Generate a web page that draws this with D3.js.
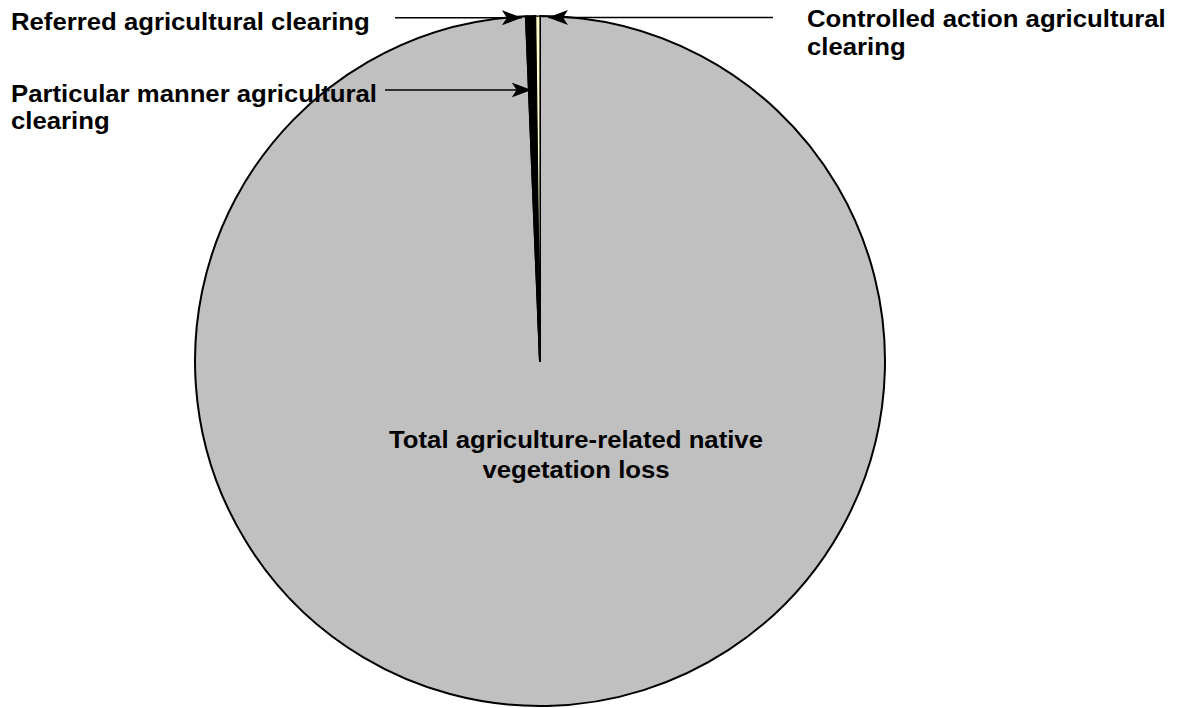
<!DOCTYPE html>
<html>
<head>
<meta charset="utf-8">
<script src="https://cdn.jsdelivr.net/npm/d3@7/dist/d3.min.js"></script>
<style>
  html, body { margin: 0; padding: 0; background: #fff; }
  svg { display: block; }
  text { font-family: Arial, "Liberation Sans", Helvetica, sans-serif; font-weight: bold; fill: #000; }
</style>
</head>
<body>
<svg id="chart" width="1177" height="708"></svg>
<script>
// Data (share of agriculture-related native vegetation loss, %)
const categories = [
  "Total agriculture-related native vegetation loss",
  "Referred agricultural clearing",
  "Particular manner agricultural clearing",
  "Controlled action agricultural clearing"
];
const values = [99.35, 0.1, 0.35, 0.2];
const colors = ["#C0C0C0", "#1a1a1a", "#000000", "#FFFFCC"];
const labelLines = [
  ["Total agriculture-related native", "vegetation loss"],
  ["Referred agricultural clearing"],
  ["Particular manner agricultural", "clearing"],
  ["Controlled action agricultural", "clearing"]
];

const W = 1177, H = 708;
const cx = 540, cy = 361, R = 345;
const FS = 23.5, SX = 1.095;

const svg = d3.select("#chart");
const data = categories.map((c, i) => ({ name: c, value: values[i], color: colors[i], lines: labelLines[i] }));

const pie = d3.pie().value(d => d.value).sort(null).startAngle(0).endAngle(2 * Math.PI);
const arcs = pie(data);
const arc = d3.arc().innerRadius(0).outerRadius(R);

const g = svg.append("g").attr("transform", `translate(${cx},${cy})`);
g.selectAll("path.slice")
  .data(arcs)
  .join("path")
  .attr("class", "slice")
  .attr("d", arc)
  .attr("fill", d => d.data.color)
  .attr("stroke", "#000")
  .attr("stroke-width", d => d.index === 3 ? 1.2 : 2)
  .attr("stroke-linejoin", "round");

// arrow marker
const defs = svg.append("defs");
defs.append("marker")
  .attr("id", "arrow")
  .attr("viewBox", "0 0 20 15")
  .attr("refX", 20).attr("refY", 7.5)
  .attr("markerWidth", 20).attr("markerHeight", 15)
  .attr("markerUnits", "userSpaceOnUse")
  .attr("orient", "auto")
  .append("path")
  .attr("d", "M0,0 L20,7.5 L0,15 L5,7.5 Z")
  .attr("fill", "#000");

function pt(angle, r) {
  return [cx + r * Math.sin(angle), cy - r * Math.cos(angle)];
}

function drawLabel(lines, x, y, anchor, lineH) {
  const tg = svg.append("g").attr("transform", `translate(${x},${y}) scale(${SX},1)`);
  const t = tg.append("text").attr("font-size", FS).attr("text-anchor", anchor);
  lines.forEach((ln, i) => t.append("tspan").attr("x", 0).attr("dy", i === 0 ? 0 : lineH).text(ln));
}

// Total label (inside)
drawLabel(arcs[0].data.lines, cx + 36, cy + 87, "middle", 30);

// Referred
const aRef = arcs[1].startAngle;
const pRef = pt(aRef, R);
svg.append("line")
  .attr("x1", 395).attr("y1", pRef[1] + 1.5)
  .attr("x2", pRef[0] - 4).attr("y2", pRef[1] + 1.5)
  .attr("stroke", "#000").attr("stroke-width", 1.5)
  .attr("marker-end", "url(#arrow)");
drawLabel(arcs[1].data.lines, 11, 30, "start", 28);

// Particular manner
const aPar = (arcs[2].startAngle + arcs[2].endAngle) / 2;
const pPar = pt(aPar, cy - 90);
svg.append("line")
  .attr("x1", 385).attr("y1", 90)
  .attr("x2", pPar[0] - 2).attr("y2", 90)
  .attr("stroke", "#000").attr("stroke-width", 1.5)
  .attr("marker-end", "url(#arrow)");
drawLabel(arcs[2].data.lines, 11, 102, "start", 27);

// Controlled action
const aCon = arcs[3].endAngle;
const pCon = pt(aCon, R);
svg.append("line")
  .attr("x1", 773).attr("y1", pCon[1] + 1.5)
  .attr("x2", pCon[0] + 8).attr("y2", pCon[1] + 1.5)
  .attr("stroke", "#000").attr("stroke-width", 1.5)
  .attr("marker-end", "url(#arrow)");
drawLabel(arcs[3].data.lines, 807, 27, "start", 28);
</script>
</body>
</html>
